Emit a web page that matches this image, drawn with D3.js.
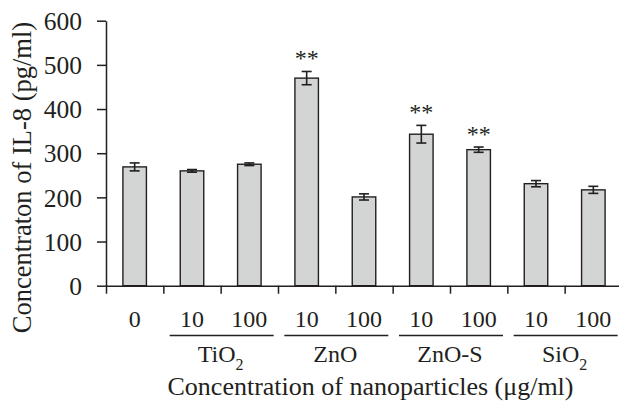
<!DOCTYPE html>
<html>
<head>
<meta charset="utf-8">
<script src="https://cdn.jsdelivr.net/npm/d3@7"></script>
<style>
  body { margin: 0; background: #fff; }
  svg { display: block; }
  text { font-family: "Liberation Serif", "Times New Roman", serif; fill: #231f20; }
</style>
</head>
<body>
<svg class="chart" width="619" height="401"></svg>
<script>
const svg = d3.select(".chart");
const ink = "#231f20";

// data
const doses = ["0", "10", "100", "10", "100", "10", "100", "10", "100"];
const il8 = [269, 260, 275, 470, 201, 343, 308, 231, 217];
const il8Err = [9, 3, 3, 15, 7, 20, 6, 7, 8];
const marked = [false, false, false, true, false, true, true, false, false];
const groups = [
  { name: "TiO", sub: "2", first: 1 },
  { name: "ZnO", sub: "", first: 3 },
  { name: "ZnO-S", sub: "", first: 5 },
  { name: "SiO", sub: "2", first: 7 }
];
const yTicks = [0, 100, 200, 300, 400, 500, 600];

const plotLeft = 106, plotRight = 622, plotTop = 20.7, plotBottom = 285.7;

const x = d3.scaleBand().domain(d3.range(doses.length)).range([plotLeft, plotRight]);
const xEdge = d3.scaleLinear().domain([0, doses.length]).range([plotLeft, plotRight]);
const y = d3.scaleLinear().domain([0, 600]).range([plotBottom, plotTop]);
const barW = x.bandwidth() * 0.41;

// bars
svg.append("g")
  .selectAll("rect")
  .data(il8)
  .join("rect")
  .attr("x", (d, i) => x(i) + (x.bandwidth() - barW) / 2)
  .attr("y", d => y(d))
  .attr("width", barW)
  .attr("height", d => y(0) - y(d))
  .attr("fill", "#d3d5d4")
  .attr("stroke", ink)
  .attr("stroke-width", 1.4);

// error bars
const err = svg.append("g").attr("stroke", ink).attr("stroke-width", 1.6);
il8.forEach((d, i) => {
  const cx = x(i) + x.bandwidth() / 2;
  const e = il8Err[i];
  err.append("line")
    .attr("x1", cx).attr("x2", cx)
    .attr("y1", y(d + e)).attr("y2", y(d - e));
  [d + e, d - e].forEach(v => {
    err.append("line")
      .attr("x1", cx - 5).attr("x2", cx + 5)
      .attr("y1", y(v)).attr("y2", y(v));
  });
});

// significance stars
svg.append("g")
  .selectAll("text")
  .data(il8.map((d, i) => ({ d, i })).filter(o => marked[o.i]))
  .join("text")
  .attr("x", o => x(o.i) + x.bandwidth() / 2)
  .attr("y", o => y(o.d + il8Err[o.i]) - 5)
  .attr("text-anchor", "middle")
  .attr("font-size", 24)
  .text("**");

// y axis
const yAxis = svg.append("g")
  .attr("transform", `translate(${plotLeft},0)`)
  .call(d3.axisLeft(y).tickValues(yTicks).tickSize(9).tickSizeOuter(0).tickPadding(15));
yAxis.attr("font-family", null).attr("font-size", null);
yAxis.selectAll("text")
  .attr("font-size", 25.5)
  .attr("fill", ink)
  .attr("dy", "0.34em");

// x axis, ticks at the band edges
svg.append("g")
  .attr("transform", `translate(0,${plotBottom})`)
  .call(d3.axisBottom(xEdge).tickValues(d3.range(doses.length + 1)).tickSize(8).tickSizeOuter(0).tickFormat(""));

svg.selectAll(".domain, .tick line").attr("stroke", ink).attr("stroke-width", 1.5);

// dose labels
svg.append("g")
  .selectAll("text")
  .data(doses)
  .join("text")
  .attr("x", (d, i) => x(i) + x.bandwidth() / 2)
  .attr("y", 327)
  .attr("text-anchor", "middle")
  .attr("font-size", 24)
  .text(d => d);

// group underlines and names
const g = svg.append("g");
groups.forEach(grp => {
  const cx = xEdge(grp.first + 1);
  g.append("line")
    .attr("x1", cx - 51).attr("x2", cx + 53)
    .attr("y1", 335.5).attr("y2", 335.5)
    .attr("stroke", ink).attr("stroke-width", 1.5);
  const t = g.append("text")
    .attr("x", cx)
    .attr("y", 362)
    .attr("text-anchor", "middle")
    .attr("font-size", 24);
  t.append("tspan").text(grp.name);
  if (grp.sub) {
    t.append("tspan").attr("font-size", 16).attr("dy", 8).text(grp.sub);
  }
});

// axis titles
svg.append("text")
  .attr("x", 370.5)
  .attr("y", 394.5)
  .attr("text-anchor", "middle")
  .attr("font-size", 26)
  .text("Concentration of nanoparticles (\u03bcg/ml)");

svg.append("text")
  .attr("transform", "translate(30.5,177.5) rotate(-90)")
  .attr("text-anchor", "middle")
  .attr("font-size", 26.5)
  .text("Concentraton of IL-8 (pg/ml)");
</script>
</body>
</html>
